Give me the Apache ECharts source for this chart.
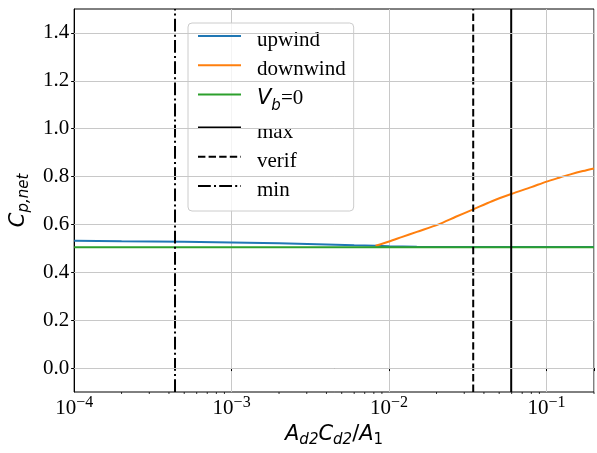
<!DOCTYPE html>
<html>
<head>
<meta charset="utf-8">
<script src="https://cdn.jsdelivr.net/npm/echarts@6/dist/echarts.min.js"></script>
<style>html,body{margin:0;padding:0;background:#fff}#c{width:597px;height:453px}</style>
</head>
<body>
<div id="c"></div>
<script>
const xMin = 1e-4, xMax = 0.2;
const yMin = -0.1, yMax = 1.5;
const yTicks = [0.0, 0.2, 0.4, 0.6, 0.8, 1.0, 1.2, 1.4];
const xMinorTicks = [2e-4,3e-4,4e-4,5e-4,6e-4,7e-4,8e-4,9e-4,2e-3,3e-3,4e-3,5e-3,6e-3,7e-3,8e-3,9e-3,2e-2,3e-2,4e-2,5e-2,6e-2,7e-2,8e-2,9e-2,2e-1];

const upwindX = [1e-4, 2e-4, 5e-4, 1e-3, 2e-3, 4e-3, 6e-3, 8.2e-3, 0.01, 0.015, 0.02, 0.05, 0.1, 0.2];
const upwindY = [0.532, 0.530, 0.528, 0.525, 0.521, 0.516, 0.513, 0.511, 0.509, 0.507, 0.506, 0.506, 0.506, 0.506];

const downwindX = [0.0082, 0.01, 0.012, 0.015, 0.0206, 0.0265, 0.0342, 0.045, 0.0596, 0.08, 0.1, 0.12, 0.14, 0.17, 0.2];
const downwindY = [0.511, 0.529, 0.547, 0.569, 0.600, 0.632, 0.663, 0.697, 0.727, 0.756, 0.779, 0.795, 0.808, 0.823, 0.834];

const vb0X = [1e-4, 0.2];
const vb0Y = [0.505, 0.505];

const maxX = 0.0596;
const verifX = 0.0342;
const minX = 4.37e-4;

const zip = (xs, ys) => xs.map((x, i) => [x, ys[i]]);
const vline = (x) => [[x, yMin], [x, yMax]];

const serif = '"Liberation Serif", "DejaVu Serif", serif';
const sans = '"DejaVu Sans", sans-serif';

const chart = echarts.init(document.getElementById('c'), null, {renderer: 'canvas'});

const lineBase = {type: 'line', symbol: 'none', showSymbol: false, smooth: false, animation: false};

chart.setOption({
  animation: false,
  backgroundColor: '#fff',
  grid: {left: 70, top: 9, width: 530, height: 388, show: true, borderColor: '#000', borderWidth: 1, backgroundColor: 'transparent'},
  legend: {
    orient: 'vertical', left: 188, top: 23,
    padding: [1, 8, 10, 9],
    backgroundColor: 'rgba(255,255,255,0.8)', borderColor: '#cccccc', borderWidth: 1, borderRadius: 4,
    itemWidth: 43, itemHeight: 14, itemGap: 2.2,
    itemStyle: {opacity: 0},
    data: ['upwind', 'downwind', 'Vb0', 'max', 'verif', 'min'],
    formatter: function (name) {
      if (name === 'Vb0') return '{v|V}{s|b}{t|=0}';
      return '{t|' + name + '}';
    },
    textStyle: {
      color: '#000', fontFamily: serif, fontSize: 21, padding: [0, 0, 0, 11],
      rich: {
        t: {fontFamily: serif, fontSize: 21, lineHeight: 24, padding: [6, 0, 0, 0], verticalAlign: 'top', color: '#000'},
        v: {fontFamily: sans, fontStyle: 'italic', fontSize: 21, lineHeight: 24, padding: [6, 0, 0, 0], verticalAlign: 'top', color: '#000'},
        s: {fontFamily: sans, fontStyle: 'italic', fontSize: 15, lineHeight: 10, padding: [0, 0, -7, 0], verticalAlign: 'bottom', color: '#000'}
      }
    }
  },
  xAxis: {
    type: 'log', logBase: 10, min: xMin, max: xMax,
    name: '{b|A}{s|d2}{b|C}{s|d2}{u|/}{b|A}{n|1}',
    nameLocation: 'middle', nameGap: 32,
    nameTextStyle: {
      rich: {
        b: {fontFamily: sans, fontStyle: 'italic', fontSize: 21, lineHeight: 24, verticalAlign: 'top', color: '#000'},
        u: {fontFamily: sans, fontSize: 21, lineHeight: 24, verticalAlign: 'top', color: '#000'},
        s: {fontFamily: sans, fontStyle: 'italic', fontSize: 15, lineHeight: 10, verticalAlign: 'bottom', color: '#000'},
        n: {fontFamily: sans, fontSize: 15, lineHeight: 10, verticalAlign: 'bottom', color: '#000'}
      }
    },
    axisLine: {show: true, lineStyle: {color: '#000', width: 1}},
    axisTick: {show: true, inside: false, length: 3, lineStyle: {color: '#000', width: 1}},
    minorTick: {show: false},
    splitLine: {show: true, lineStyle: {color: '#c8c8c8', width: 1}},
    axisLabel: {
      margin: 3, showMaxLabel: true, showMinLabel: true, hideOverlap: false,
      formatter: function (v) {
        const e = Math.log10(v);
        const r = Math.round(e);
        if (Math.abs(e - r) > 1e-6) return '';
        return '{b|10}{p|' + (r < 0 ? '\u2212' : '') + Math.abs(r) + '}';
      },
      rich: {
        b: {fontFamily: serif, fontSize: 21, lineHeight: 24, verticalAlign: 'bottom', color: '#000'},
        p: {fontFamily: serif, fontSize: 16, lineHeight: 6, verticalAlign: 'top', color: '#000'}
      }
    }
  },
  yAxis: {
    type: 'value', min: yMin, max: yMax,
    name: '{b|C}{s|p,net}',
    nameLocation: 'middle', nameGap: 37, nameRotate: 90,
    nameTextStyle: {
      rich: {
        b: {fontFamily: sans, fontStyle: 'italic', fontSize: 21, lineHeight: 24, verticalAlign: 'top', color: '#000'},
        s: {fontFamily: sans, fontStyle: 'italic', fontSize: 15, lineHeight: 10, verticalAlign: 'bottom', color: '#000'}
      }
    },
    axisLine: {show: true, lineStyle: {color: '#000', width: 1}},
    axisTick: {show: true, inside: false, length: 3, customValues: yTicks, lineStyle: {color: '#000', width: 1}},
    splitLine: {show: false},
    axisLabel: {
      margin: 5, customValues: yTicks, fontFamily: serif, fontSize: 21, color: '#000',
      formatter: function (v) { return v.toFixed(1); }
    }
  },
  series: [
    Object.assign({}, lineBase, {
      name: 'gridY', type: 'line', data: [], silent: true, legendHoverLink: false,
      markLine: {
        silent: true, symbol: 'none', label: {show: false}, animation: false,
        lineStyle: {color: '#c8c8c8', width: 1, type: 'solid'},
        data: yTicks.map(v => ({yAxis: v}))
      }
    }),
    Object.assign({}, lineBase, {name: 'upwind', data: zip(upwindX, upwindY), lineStyle: {color: '#1f77b4', width: 2}, itemStyle: {color: '#1f77b4'}}),
    Object.assign({}, lineBase, {name: 'downwind', data: zip(downwindX, downwindY), smooth: 0.3, lineStyle: {color: '#ff7f0e', width: 2}, itemStyle: {color: '#ff7f0e'}}),
    Object.assign({}, lineBase, {name: 'Vb0', data: zip(vb0X, vb0Y), lineStyle: {color: '#2ca02c', width: 2}, itemStyle: {color: '#2ca02c'}}),
    Object.assign({}, lineBase, {name: 'max', data: vline(maxX), lineStyle: {color: '#000', width: 2, type: 'solid'}, itemStyle: {color: '#000'}}),
    Object.assign({}, lineBase, {name: 'verif', data: vline(verifX), lineStyle: {color: '#000', width: 2, type: [7.4, 3.2]}, itemStyle: {color: '#000'}}),
    Object.assign({}, lineBase, {name: 'min', data: vline(minX), lineStyle: {color: '#000', width: 2, type: [12.8, 3.2, 2, 3.2]}, itemStyle: {color: '#000'}}),
    {
      name: 'minorTicks', type: 'custom', silent: true, clip: false, animation: false,
      data: xMinorTicks.map(v => [v, yMin]),
      renderItem: function (params, api) {
        const p = api.coord([api.value(0), api.value(1)]);
        return {type: 'line', shape: {x1: p[0], y1: p[1], x2: p[0], y2: p[1] + 2}, style: {stroke: '#000', lineWidth: 0.8}};
      }
    }
  ]
});
</script>
</body>
</html>
